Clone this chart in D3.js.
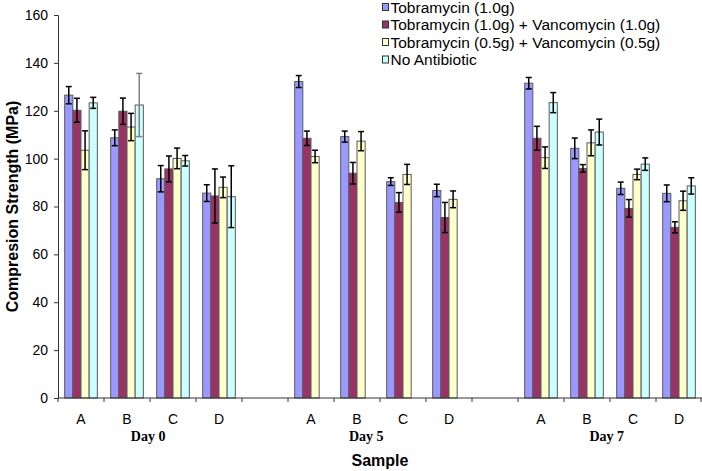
<!DOCTYPE html>
<html><head><meta charset="utf-8">
<script src="https://cdn.jsdelivr.net/npm/d3@7"></script>
<style>body{margin:0;background:#fff}svg{display:block}</style>
</head><body>
<script>
// ---- data ----
const categories = ["A","B","C","D","gap1","A5","B5","C5","D5","gap2","A7","B7","C7","D7"];
const categoryLabels = ["A","B","C","D","","A","B","C","D","","A","B","C","D"];
const days = ["Day 0","Day 5","Day 7"];
const dayAnchors = [1.46, 6.2, 11.43]; // category-index where each day label is centred
const seriesNames = ["Tobramycin (1.0g)","Tobramycin (1.0g) + Vancomycin (1.0g)","Tobramycin (0.5g) + Vancomycin (0.5g)","No Antibiotic"];
const seriesColors = ["#9999FF","#993366","#FFFFCC","#CCFFFF"];
const tobra1 =      [126.5,108.7,91.6,85.6, null, 132.2,109.2,90.4,86.7, null, 131.5,104.3,87.6,85.5];
const tobra1Err =   [3.6,3.3,5.5,3.5, null, 2.5,2.3,1.6,2.6, null, 2.4,4.3,2.6,3.5];
const tobraVanc1 =  [120.2,119.8,95.7,84.4, null, 108.5,93.9,81.7,75.4, null, 108.5,95.9,79.2,71.3];
const tobraVanc1Err=[5.0,5.5,5.4,11.3, null, 3.0,4.5,4.1,6.3, null, 5.0,1.6,3.7,2.3];
const tobraVanc05 = [103.5,113.2,100.1,88.0, null, 100.9,107.3,93.4,83.0, null, 100.4,106.6,93.4,82.4];
const tobraVanc05Err=[8.1,5.7,4.3,4.3, null, 2.6,4.0,4.2,3.5, null, 4.5,5.4,2.2,4.0];
const noAbx =       [123.3,122.4,99.1,84.1, null, null,null,null,null, null, 123.4,111.1,97.7,88.6];
const noAbxErr =    [2.3,13.2,2.2,12.9, null, null,null,null,null, null, 4.2,5.4,2.6,3.4];
const yTicks = [0,20,40,60,80,100,120,140,160];

const seriesVals = [tobra1,tobraVanc1,tobraVanc05,noAbx];
const seriesErrs = [tobra1Err,tobraVanc1Err,tobraVanc05Err,noAbxErr];

// ---- layout ----
const W=702,H=471;
const m={left:58,right:0,top:15,bottom:73};
const svg=d3.select("body").append("svg").attr("width",W).attr("height",H);
const x=d3.scaleBand().domain(categories).range([m.left,W-m.right]).padding(0);
const bw=x.bandwidth();
const x1=d3.scaleBand().domain(d3.range(4)).range([bw*0.145,bw*0.855]).padding(0);
const y=d3.scaleLinear().domain([0,160]).range([H-m.bottom,m.top]);

const font="Arial, 'Liberation Sans', sans-serif";

// bars
seriesVals.forEach((vals,si)=>{
  const g=svg.append("g");
  const data=categories.map((c,i)=>({c,v:vals[i],e:seriesErrs[si][i]})).filter(d=>d.v!=null);
  g.selectAll("rect").data(data).join("rect")
    .attr("x",d=>x(d.c)+x1(si)).attr("width",x1.bandwidth())
    .attr("y",d=>y(d.v)).attr("height",d=>y(0)-y(d.v))
    .attr("fill",seriesColors[si]).attr("stroke","#5a5a5a").attr("stroke-width",1);
});
// error bars
seriesVals.forEach((vals,si)=>{
  const g=svg.append("g");
  const data=categories.map((c,i)=>({c,v:vals[i],e:seriesErrs[si][i]})).filter(d=>d.v!=null);
  const cx=d=>x(d.c)+x1(si)+x1.bandwidth()/2;
  const col=(d)=> (si===3 && d.c==="B") ? "#808080" : "#000";
  g.selectAll("line.v").data(data).join("line")
    .attr("x1",cx).attr("x2",cx).attr("y1",d=>y(d.v+d.e)).attr("y2",d=>y(d.v-d.e))
    .attr("stroke",col).attr("stroke-width",1.5);
  g.selectAll("line.t").data(data).join("line")
    .attr("x1",d=>cx(d)-3).attr("x2",d=>cx(d)+3).attr("y1",d=>y(d.v+d.e)).attr("y2",d=>y(d.v+d.e))
    .attr("stroke",col).attr("stroke-width",1.5);
  g.selectAll("line.b").data(data).join("line")
    .attr("x1",d=>cx(d)-3).attr("x2",d=>cx(d)+3).attr("y1",d=>y(d.v-d.e)).attr("y2",d=>y(d.v-d.e))
    .attr("stroke",col).attr("stroke-width",1.5);
});

// y axis
const ya=svg.append("g").attr("transform",`translate(${m.left},0)`)
  .call(d3.axisLeft(y).tickValues(yTicks).tickSize(4).tickPadding(6));
ya.select(".domain").attr("stroke","#333");
ya.selectAll(".tick line").attr("stroke","#333");
ya.selectAll("text").attr("font-family",font).attr("font-size",14).attr("fill","#000");

// x axis
const xa=svg.append("g").attr("transform",`translate(0,${y(0)})`);
xa.append("line").attr("x1",m.left).attr("x2",W).attr("y1",0).attr("y2",0).attr("stroke","#333");
const tickPos=categories.map(c=>x(c)).concat([x(categories[categories.length-1])+bw-1]);
xa.selectAll("line.tk").data(tickPos).join("line").attr("class","tk")
  .attr("x1",d=>d).attr("x2",d=>d).attr("y1",0).attr("y2",4).attr("stroke","#333");
xa.selectAll("text.cat").data(categories).join("text").attr("class","cat")
  .attr("x",c=>x(c)+bw/2).attr("y",26).attr("text-anchor","middle")
  .attr("font-family",font).attr("font-size",14).text((c,i)=>categoryLabels[i]);
xa.selectAll("text.day").data(days).join("text").attr("class","day")
  .attr("x",(d,i)=>m.left+bw*(dayAnchors[i]+0.5)).attr("y",43).attr("text-anchor","middle")
  .attr("font-family","'Liberation Serif','Times New Roman',serif").attr("font-weight","bold")
  .attr("font-size",14).text(d=>d);

// axis titles
svg.append("text").attr("x",(m.left+W)/2).attr("y",466).attr("text-anchor","middle")
  .attr("font-family",font).attr("font-weight","bold").attr("font-size",16).text("Sample");
svg.append("text").attr("transform",`translate(18,${(m.top+y(0))/2}) rotate(-90)`)
  .attr("text-anchor","middle").attr("font-family",font).attr("font-weight","bold")
  .attr("font-size",16).text("Compresion Strength (MPa)");

// legend
const lg=svg.append("g").attr("transform","translate(382,0)");
seriesNames.forEach((n,i)=>{
  const cy=7+i*17.5;
  lg.append("rect").attr("x",0.5).attr("y",cy-3.5).attr("width",6).attr("height",7)
    .attr("fill",seriesColors[i]).attr("stroke","#333").attr("stroke-width",1);
  lg.append("text").attr("x",8.5).attr("y",cy+5.5).attr("font-family",font).attr("font-size",15.5).text(n);
});
</script>
</body></html>
